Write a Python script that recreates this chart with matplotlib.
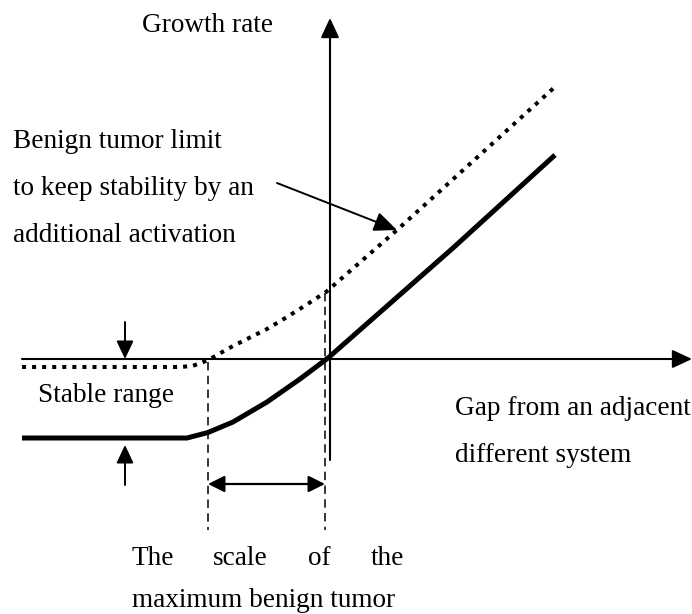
import matplotlib.pyplot as plt

solid_x = [22, 187, 208, 233, 267, 300, 328, 453, 555]
solid_y = [438, 438, 432.5, 422, 402, 379, 358, 248, 155]

dotted_x = [22, 180, 192, 200, 210, 217, 233, 247, 267, 287, 306, 326, 397, 557]
dotted_y = [367, 367, 366, 363.5, 359, 355, 346, 339, 329, 317, 305, 292, 230, 85]

# dashed guides: x, top, bottom
guide_x = [208, 325]
guide_top = [362, 293]
guide_bottom = [530, 530]

AXIS_Y = 359
AXIS_X = 330

FONT = ['Liberation Serif', 'DejaVu Serif']
FS = 19.6

fig = plt.figure(figsize=(6.92, 6.14), dpi=100)
ax = fig.add_axes((0, 0, 1, 1))
ax.set_xlim(0, 692)
ax.set_ylim(614, 0)
ax.axis('off')


def arrow(x0, y0, x1, y1, style='-|>', lw=1.4, hl=0.55, hw=0.24):
    ax.annotate('', xy=(x1, y1), xytext=(x0, y0),
                arrowprops=dict(arrowstyle=f'{style},head_length={hl},head_width={hw}',
                                mutation_scale=20, lw=lw, color='black',
                                shrinkA=0, shrinkB=0))


# axes of the diagram
arrow(22, AXIS_Y, 692, AXIS_Y, lw=1.5, hl=0.6, hw=0.28)
arrow(AXIS_X, 460, AXIS_X, 18, lw=1.5, hl=0.6, hw=0.28)

# curves
ax.plot(solid_x, solid_y, color='black', lw=3.6, solid_capstyle='butt', solid_joinstyle='round')
ax.plot(dotted_x, dotted_y, color='black', lw=2.9, linestyle=(0, (1, 1.5)),
        dash_capstyle='butt')

# dashed guides
for gx, gt, gb in zip(guide_x, guide_top, guide_bottom):
    ax.plot([gx, gx], [gt, gb], color='black', lw=1.1, linestyle=(0, (5.5, 3.5)))

# scale arrow
arrow(guide_x[0], 484, guide_x[1], 484, style='<|-|>', lw=1.6, hl=0.5, hw=0.25)

# stable range arrows
arrow(125, 322, 125, AXIS_Y, lw=1.4, hl=0.55, hw=0.26)
arrow(125, 485, 125, 445, lw=1.4, hl=0.55, hw=0.26)

# pointer
arrow(277, 183, 397, 230, lw=1.4, hl=0.7, hw=0.3)

txt = dict(fontsize=FS, family=FONT, color='black', va='baseline')
ax.text(142, 32, 'Growth rate', **txt)
ax.text(13, 148, 'Benign tumor limit', **txt)
ax.text(13, 195, 'to keep stability by an', **txt)
ax.text(13, 242, 'additional activation', **txt)
ax.text(38, 402, 'Stable range', **txt)
ax.text(455, 415, 'Gap from an adjacent', **txt)
ax.text(455, 462, 'different system', **txt)
ax.text(132, 565, 'The', **txt)
ax.text(213, 565, 'scale', **txt)
ax.text(308, 565, 'of', **txt)
ax.text(404, 565, 'the', ha='right', **txt)
ax.text(132, 607, 'maximum benign tumor', **txt)

fig.savefig('out.png', dpi=100)
